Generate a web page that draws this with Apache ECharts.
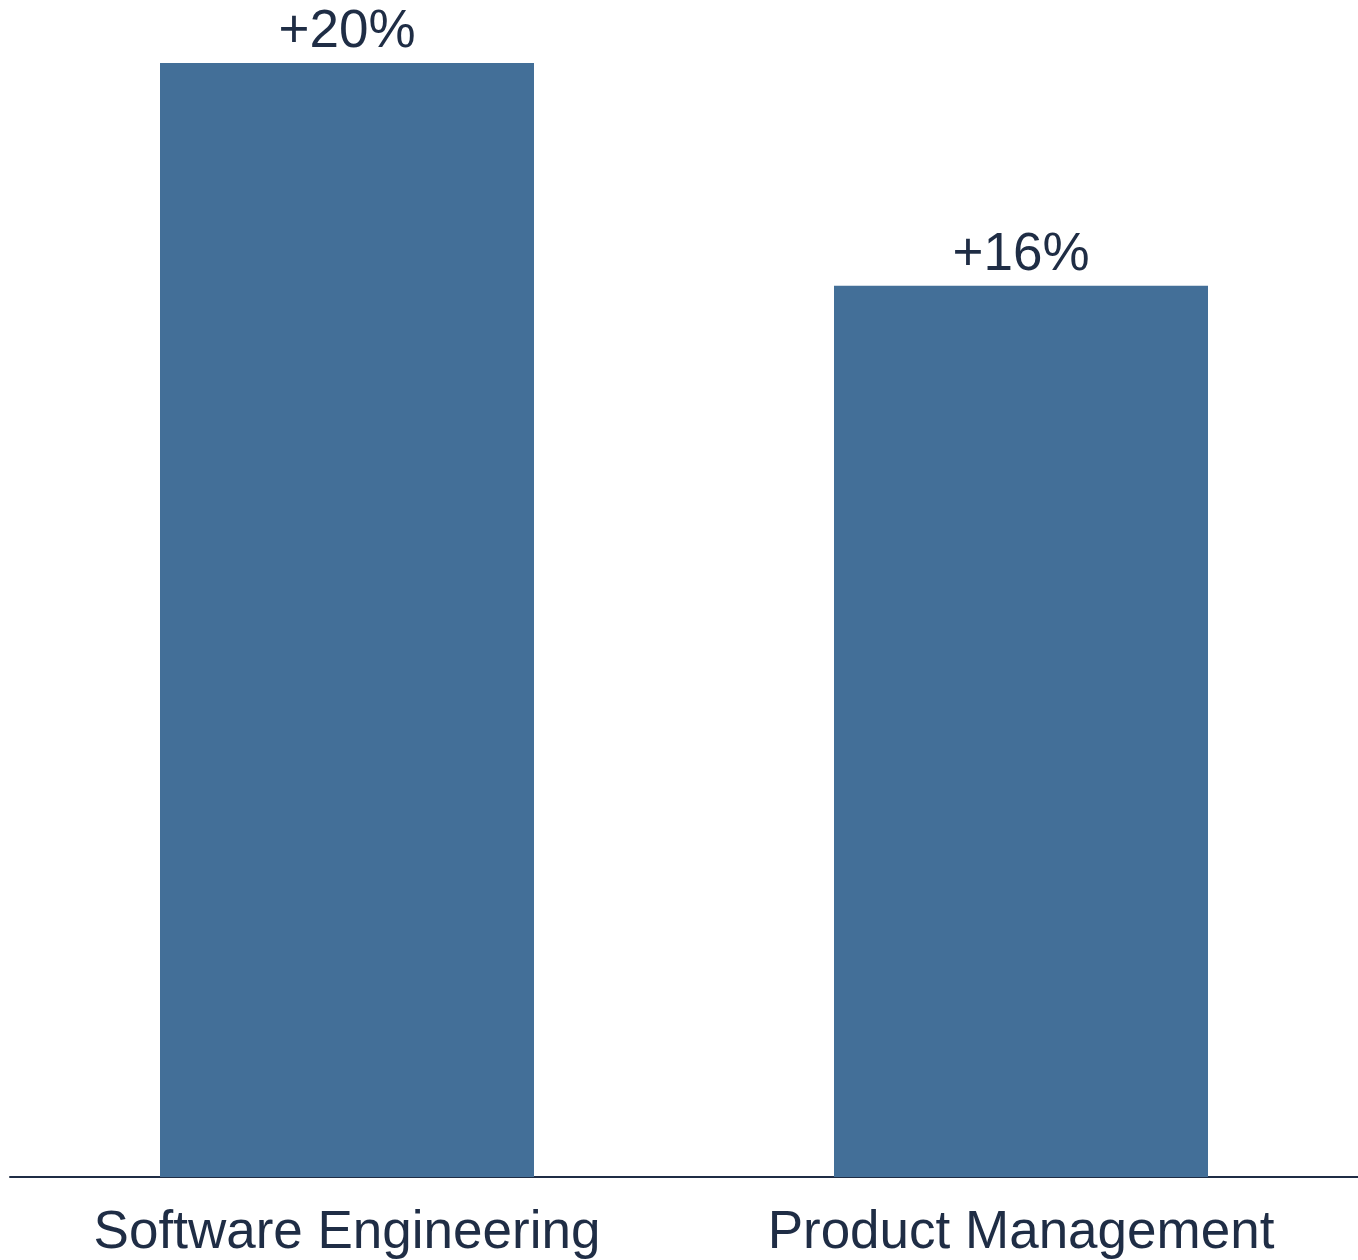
<!DOCTYPE html>
<html lang="en">
<head>
  <meta charset="utf-8" />
  <title>bar chart</title>
  <style>
    html, body { margin: 0; padding: 0; background: #fff; }
    #chart { width: 1358px; height: 1260px; }
  </style>
  <script src="https://cdn.jsdelivr.net/npm/echarts@6.0.0/dist/echarts.min.js"></script>
</head>
<body>
  <div id="chart"></div>
  <script type="text/javascript">
    // data
    var categories = ['Software Engineering', 'Product Management'];
    var growth = [20, 16];

    var textColor = '#1f2d45';
    var myChart = echarts.init(document.getElementById('chart'));

    var option = {
      animation: false,
      grid: {
        left: 10,
        right: 0,
        top: 63,
        bottom: 83
      },
      xAxis: {
        type: 'category',
        data: categories,
        axisLine: { show: true, lineStyle: { color: textColor, width: 2 } },
        axisTick: { show: false },
        axisLabel: {
          color: textColor,
          fontFamily: 'Liberation Sans, Arial, sans-serif',
          fontSize: 53,
          margin: 30
        }
      },
      yAxis: {
        type: 'value',
        min: 0,
        max: 20,
        show: false,
        splitLine: { show: false }
      },
      series: [{
        type: 'bar',
        data: growth,
        barWidth: 374,
        itemStyle: { color: '#436f98' },
        label: {
          show: true,
          position: 'top',
          distance: 4,
          color: textColor,
          fontFamily: 'Liberation Sans, Arial, sans-serif',
          fontSize: 53,
          formatter: function (p) { return '+' + p.value + '%'; }
        }
      }]
    };
    myChart.setOption(option);
  </script>
</body>
</html>
